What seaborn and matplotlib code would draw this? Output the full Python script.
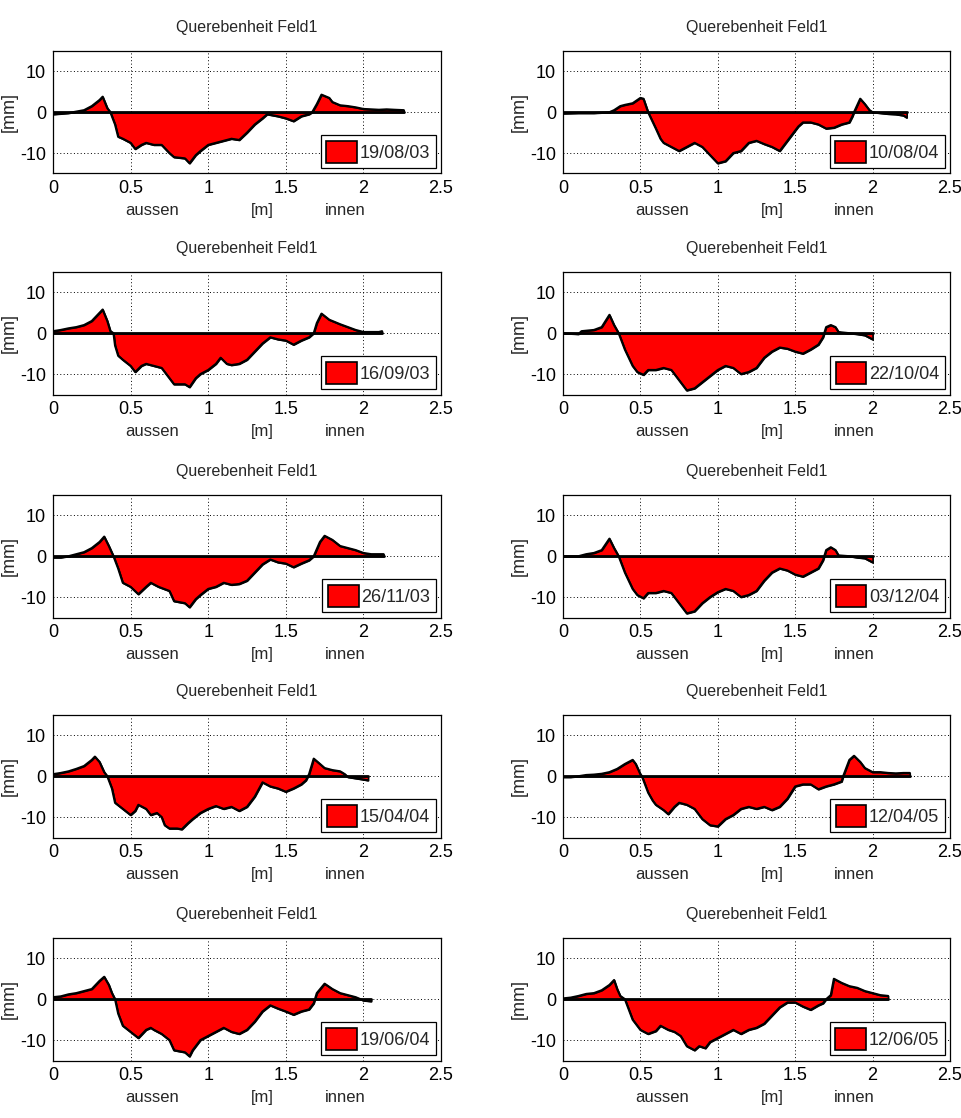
import matplotlib
matplotlib.use("Agg")
import matplotlib.pyplot as plt
import matplotlib.transforms as mtransforms
from matplotlib.patches import Patch
import seaborn as sns
import pandas as pd

# ---------------- data ----------------
dates = ["19/08/03", "10/08/04", "16/09/03", "22/10/04", "26/11/03",
         "03/12/04", "15/04/04", "12/04/05", "19/06/04", "12/06/05"]

x1 = [0, 0.1, 0.2, 0.25, 0.3, 0.32, 0.35, 0.37, 0.4, 0.42, 0.45, 0.5, 0.53, 0.57, 0.6, 0.65, 0.7, 0.75, 0.78, 0.85, 0.88, 0.92, 0.95, 1.0, 1.05, 1.1, 1.15, 1.2, 1.25, 1.3, 1.35, 1.38, 1.45, 1.5, 1.55, 1.6, 1.65, 1.67, 1.7, 1.73, 1.78, 1.8, 1.85, 1.9, 1.95, 2.0, 2.05, 2.1, 2.15, 2.2, 2.26]
y1 = [-0.5, -0.2, 0.5, 1.5, 3.0, 3.8, 1.0, 0.0, -3.0, -6.0, -6.5, -7.5, -9.0, -8.0, -7.5, -8.0, -8.0, -10.0, -11.0, -11.3, -12.5, -10.5, -9.5, -8.0, -7.5, -7.0, -6.5, -6.8, -5.0, -3.0, -1.5, -0.5, -1.0, -1.5, -2.2, -1.0, -0.5, 0.0, 2.0, 4.3, 3.5, 2.5, 1.7, 1.5, 1.2, 0.8, 0.7, 0.6, 0.7, 0.6, 0.5]

x2 = [0, 0.1, 0.2, 0.3, 0.33, 0.37, 0.4, 0.45, 0.5, 0.52, 0.55, 0.6, 0.63, 0.65, 0.7, 0.75, 0.8, 0.85, 0.9, 0.95, 1.0, 1.05, 1.1, 1.15, 1.2, 1.25, 1.3, 1.35, 1.4, 1.45, 1.48, 1.52, 1.55, 1.6, 1.65, 1.7, 1.75, 1.8, 1.85, 1.87, 1.88, 1.92, 1.95, 1.98, 2.0, 2.05, 2.1, 2.15, 2.2, 2.22]
y2 = [-0.3, -0.2, -0.2, 0.0, 0.5, 1.5, 1.8, 2.2, 3.5, 3.3, 0.0, -4.0, -6.5, -7.5, -8.5, -9.5, -8.5, -7.5, -8.5, -10.5, -12.5, -12.0, -10.0, -9.5, -7.5, -7.0, -7.8, -8.5, -9.5, -7.0, -5.5, -3.5, -2.5, -2.5, -3.0, -4.0, -3.8, -3.0, -2.5, -1.0, 0.0, 3.3, 2.0, 0.5, 0.0, -0.2, -0.4, -0.5, -0.8, -1.3]

x3 = [0, 0.05, 0.1, 0.15, 0.2, 0.25, 0.3, 0.32, 0.35, 0.37, 0.39, 0.4, 0.42, 0.45, 0.5, 0.53, 0.57, 0.6, 0.65, 0.7, 0.75, 0.78, 0.85, 0.88, 0.92, 0.95, 1.0, 1.05, 1.08, 1.12, 1.15, 1.2, 1.25, 1.3, 1.35, 1.4, 1.45, 1.5, 1.55, 1.6, 1.65, 1.68, 1.7, 1.73, 1.78, 1.85, 1.9, 1.95, 2.0, 2.1, 2.12]
y3 = [0.5, 0.8, 1.2, 1.5, 2.0, 3.0, 5.0, 5.8, 3.0, 0.5, 0.0, -3.0, -5.5, -6.5, -8.0, -9.5, -8.0, -7.5, -8.0, -8.5, -11.0, -12.5, -12.5, -13.2, -11.0, -10.0, -9.0, -7.5, -6.0, -7.5, -7.8, -7.5, -6.5, -4.5, -2.5, -1.0, -1.5, -1.8, -2.8, -1.8, -1.0, 0.0, 2.5, 4.8, 3.3, 2.2, 1.5, 0.8, 0.3, 0.3, 0.5]

x4 = [0, 0.1, 0.12, 0.2, 0.25, 0.3, 0.33, 0.36, 0.4, 0.45, 0.48, 0.52, 0.55, 0.6, 0.65, 0.7, 0.75, 0.8, 0.85, 0.9, 0.95, 1.0, 1.05, 1.1, 1.15, 1.2, 1.25, 1.3, 1.35, 1.4, 1.45, 1.5, 1.55, 1.6, 1.65, 1.68, 1.7, 1.73, 1.76, 1.78, 1.8, 1.85, 1.9, 1.95, 2.0]
y4 = [0.0, -0.2, 0.5, 0.8, 1.5, 4.5, 2.0, 0.0, -4.0, -8.0, -9.5, -10.2, -9.0, -9.0, -8.5, -9.0, -11.5, -14.0, -13.5, -12.0, -10.5, -9.0, -8.0, -8.5, -10.0, -9.5, -8.5, -6.0, -4.5, -3.5, -3.8, -4.5, -5.0, -4.0, -2.8, -1.0, 1.5, 2.0, 1.5, 0.3, 0.2, 0.0, -0.2, -0.5, -1.5]

x5 = [0, 0.05, 0.1, 0.15, 0.2, 0.25, 0.3, 0.33, 0.36, 0.39, 0.42, 0.45, 0.5, 0.55, 0.6, 0.63, 0.68, 0.75, 0.78, 0.85, 0.88, 0.92, 0.95, 1.0, 1.05, 1.1, 1.15, 1.2, 1.25, 1.3, 1.35, 1.4, 1.45, 1.5, 1.55, 1.6, 1.65, 1.68, 1.72, 1.75, 1.8, 1.85, 1.9, 1.95, 2.0, 2.05, 2.13]
y5 = [-0.3, -0.3, 0.0, 0.5, 1.0, 2.0, 3.5, 4.8, 2.5, 0.0, -3.0, -6.5, -7.5, -9.3, -7.5, -6.5, -7.5, -8.5, -11.0, -11.5, -12.5, -10.5, -9.5, -8.0, -7.5, -6.5, -7.0, -6.8, -6.0, -4.0, -2.0, -0.8, -1.5, -1.8, -2.7, -1.8, -1.0, 0.0, 3.5, 5.0, 4.0, 2.5, 2.0, 1.5, 0.8, 0.5, 0.5]

x6 = [0, 0.1, 0.15, 0.2, 0.25, 0.3, 0.33, 0.36, 0.4, 0.45, 0.48, 0.52, 0.55, 0.6, 0.65, 0.7, 0.75, 0.8, 0.85, 0.9, 0.95, 1.0, 1.05, 1.1, 1.15, 1.2, 1.25, 1.3, 1.35, 1.4, 1.45, 1.5, 1.55, 1.6, 1.65, 1.68, 1.7, 1.73, 1.76, 1.78, 1.85, 1.9, 1.95, 2.0]
y6 = [0.0, 0.0, 0.5, 0.8, 1.5, 4.3, 2.0, 0.0, -4.0, -8.0, -9.5, -10.3, -9.0, -9.0, -8.5, -9.0, -11.5, -14.0, -13.5, -11.5, -10.0, -8.8, -8.0, -8.5, -10.0, -9.5, -8.5, -6.0, -4.0, -3.0, -3.5, -4.5, -5.0, -4.0, -3.0, -1.0, 1.5, 2.2, 1.5, 0.2, 0.0, -0.3, -0.5, -1.5]

x7 = [0, 0.05, 0.1, 0.15, 0.2, 0.25, 0.27, 0.3, 0.33, 0.35, 0.38, 0.4, 0.45, 0.5, 0.53, 0.55, 0.6, 0.63, 0.67, 0.7, 0.72, 0.75, 0.8, 0.83, 0.87, 0.9, 0.95, 1.0, 1.05, 1.1, 1.15, 1.2, 1.25, 1.3, 1.35, 1.4, 1.45, 1.5, 1.55, 1.6, 1.63, 1.65, 1.68, 1.72, 1.75, 1.8, 1.85, 1.88, 1.9, 1.95, 2.0, 2.03]
y7 = [0.5, 0.8, 1.2, 1.8, 2.5, 4.0, 4.8, 3.5, 1.0, 0.0, -3.0, -6.5, -8.0, -9.5, -8.5, -7.0, -8.0, -9.5, -9.0, -10.0, -12.0, -12.8, -12.8, -13.0, -11.5, -10.5, -9.0, -8.0, -7.3, -8.0, -7.5, -8.5, -7.5, -5.0, -1.5, -2.5, -3.0, -3.8, -3.0, -2.0, -1.0, 0.5, 4.3, 3.0, 2.0, 1.5, 1.2, 0.5, -0.2, -0.5, -0.8, -1.0]

x8 = [0, 0.05, 0.1, 0.15, 0.2, 0.25, 0.3, 0.35, 0.4, 0.45, 0.47, 0.5, 0.51, 0.55, 0.58, 0.6, 0.65, 0.68, 0.72, 0.75, 0.8, 0.85, 0.9, 0.95, 1.0, 1.05, 1.1, 1.15, 1.2, 1.25, 1.3, 1.35, 1.4, 1.45, 1.5, 1.55, 1.6, 1.65, 1.7, 1.75, 1.8, 1.81, 1.85, 1.88, 1.92, 1.95, 2.0, 2.05, 2.1, 2.15, 2.2, 2.24]
y8 = [-0.2, -0.2, 0.0, 0.3, 0.4, 0.6, 1.0, 1.8, 3.0, 4.0, 3.0, 0.5, 0.0, -4.0, -6.0, -7.0, -8.3, -9.3, -7.5, -6.5, -7.0, -8.0, -10.5, -12.0, -12.3, -10.5, -9.5, -8.0, -7.5, -8.0, -7.5, -8.3, -7.5, -5.5, -2.5, -2.0, -2.0, -3.2, -2.5, -2.0, -1.3, 0.0, 4.0, 5.0, 3.5, 2.0, 1.0, 1.0, 0.8, 0.7, 0.8, 0.8]

x9 = [0, 0.05, 0.1, 0.15, 0.2, 0.25, 0.3, 0.33, 0.36, 0.38, 0.4, 0.42, 0.45, 0.5, 0.55, 0.6, 0.63, 0.65, 0.7, 0.75, 0.78, 0.85, 0.88, 0.9, 0.95, 1.0, 1.05, 1.1, 1.15, 1.2, 1.25, 1.3, 1.35, 1.4, 1.45, 1.5, 1.55, 1.6, 1.65, 1.68, 1.7, 1.75, 1.8, 1.85, 1.9, 1.95, 2.0, 2.05]
y9 = [0.5, 0.7, 1.2, 1.5, 2.0, 2.5, 4.5, 5.5, 3.5, 1.5, 0.0, -3.5, -6.5, -8.0, -9.5, -7.5, -7.0, -7.5, -8.5, -10.0, -12.5, -13.0, -14.0, -12.5, -10.0, -9.0, -8.0, -7.0, -8.0, -8.5, -7.5, -5.5, -3.0, -1.5, -2.3, -3.0, -3.8, -3.0, -2.5, -1.0, 1.5, 3.8, 2.5, 1.5, 1.0, 0.5, -0.3, -0.5]

x10 = [0, 0.05, 0.1, 0.15, 0.2, 0.25, 0.3, 0.33, 0.35, 0.37, 0.4, 0.43, 0.45, 0.5, 0.55, 0.6, 0.63, 0.68, 0.72, 0.76, 0.8, 0.85, 0.88, 0.92, 0.95, 1.0, 1.05, 1.1, 1.15, 1.2, 1.25, 1.3, 1.35, 1.4, 1.45, 1.5, 1.55, 1.6, 1.65, 1.68, 1.7, 1.73, 1.75, 1.8, 1.85, 1.9, 1.95, 2.0, 2.05, 2.1]
y10 = [0.2, 0.4, 0.8, 1.3, 1.5, 2.2, 3.5, 4.7, 2.5, 0.8, 0.0, -3.0, -5.0, -7.5, -8.5, -7.8, -6.5, -7.5, -8.0, -9.0, -11.5, -12.5, -11.5, -12.0, -10.5, -9.5, -8.5, -7.5, -8.5, -7.5, -7.0, -6.0, -4.0, -2.0, -0.8, -0.8, -1.8, -2.6, -1.5, -1.0, 0.0, 1.0, 5.0, 4.0, 3.2, 2.8, 2.0, 1.5, 1.0, 0.8]

xs = [x1, x2, x3, x4, x5, x6, x7, x8, x9, x10]
ys = [y1, y2, y3, y4, y5, y6, y7, y8, y9, y10]

xticks = [0, 0.5, 1, 1.5, 2, 2.5]
xticklabels = ["0", "0.5", "1", "1.5", "2", "2.5"]
yticks = [-10, 0, 10]
yticklabels = ["-10", "0", "10"]
title = "Querebenheit Feld1"
xlabel_parts = ["aussen", "[m]", "innen"]
ylabel = "[mm]"

# ---------------- style ----------------
sns.set_style("white")
plt.rcParams["font.family"] = ["Liberation Sans", "DejaVu Sans"]

W, H = 962, 1118
fig = plt.figure(figsize=(W / 100, H / 100), dpi=100)
fig.patch.set_facecolor("white")

tops = [51, 272, 495, 715, 938]
lefts = [53, 563]
widths = [388, 387]
h = 122.5

for i in range(10):
    r, c = divmod(i, 2)
    ax = fig.add_axes([lefts[c] / W, 1 - (tops[r] + h) / H, widths[c] / W, h / H])
    df = pd.DataFrame({"x": xs[i], "y": ys[i]})
    ax.fill_between(df["x"], df["y"], 0, color="#ff0000", edgecolor="black",
                    linewidth=1.2, zorder=2)
    sns.lineplot(data=df, x="x", y="y", ax=ax, color="black", linewidth=1.6,
                 sort=False, zorder=3)
    ax.plot([df["x"].iloc[0], df["x"].iloc[-1]], [0, 0], color="black",
            linewidth=2.0, zorder=4)
    ax.set_xlim(0, 2.5)
    ax.set_ylim(-15, 15)
    ax.set_xticks(xticks)
    ax.set_xticklabels(xticklabels, fontsize=13)
    ax.set_yticks(yticks)
    ax.set_yticklabels(yticklabels, fontsize=13)
    ax.tick_params(direction="in", length=4, width=0.8, pad=5, colors="black")
    ax.grid(True, linestyle=(0, (1, 2.5)), color="black", linewidth=0.7, zorder=1)
    ax.set_axisbelow(True)
    for s in ax.spines.values():
        s.set_color("black")
        s.set_linewidth(0.9)
    ax.set_xlabel("")
    ax.set_ylabel(ylabel, fontsize=13)
    ax.yaxis.set_label_coords(-0.09, 0.5)
    ax.set_title(title, fontsize=11.5, pad=14)
    trans = mtransforms.blended_transform_factory(ax.transAxes, ax.transAxes)
    for xp, txt in zip([0.255, 0.54, 0.752], xlabel_parts):
        ax.text(xp, -0.30, txt, transform=trans, ha="center", va="center",
                fontsize=12)
    handle = Patch(facecolor="#ff0000", edgecolor="black", linewidth=1.2)
    leg = ax.legend([handle], [dates[i]], loc="lower right", fontsize=13,
                    frameon=True, fancybox=False, framealpha=1,
                    edgecolor="black", handlelength=1.7, handleheight=1.5,
                    handletextpad=0.15, borderpad=0.3, borderaxespad=0.3)
    leg.get_frame().set_linewidth(0.9)

fig.savefig("out.png", dpi=100, facecolor="white")
